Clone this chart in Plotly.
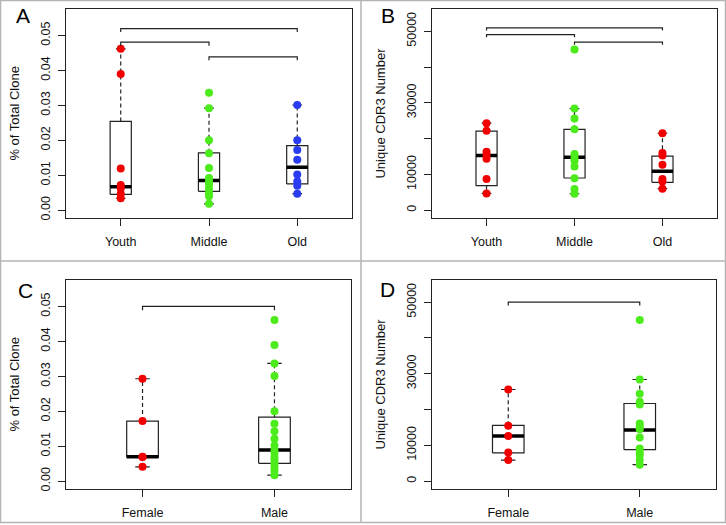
import plotly.graph_objects as go

# ---------------- data ----------------
age_groups = ["Youth", "Middle", "Old"]
sex_groups = ["Female", "Male"]

# Panel A: % of total clone by age
A_youth = [0.0462, 0.0390, 0.0119, 0.0072, 0.0063, 0.0047, 0.0034]
A_middle = [0.0336, 0.0292, 0.0200, 0.0163, 0.0121, 0.0092, 0.0084, 0.0074, 0.0063, 0.0049, 0.0040, 0.0018]
A_old = [0.0301, 0.0200, 0.0172, 0.0144, 0.0102, 0.0082, 0.0070, 0.0047]
# box stats: [whisker low, q1, median, q3, whisker high]
A_box_youth = [0.0034, 0.0045, 0.0067, 0.0254, 0.0462]
A_box_middle = [0.0018, 0.0054, 0.0085, 0.0164, 0.0292]
A_box_old = [0.0047, 0.0075, 0.0123, 0.0185, 0.0301]
A_brackets = [(1, 3, 0.0520), (1, 2, 0.0481), (2, 3, 0.0439)]

# Panel B: unique CDR3 number by age
B_youth = [24300, 22200, 16300, 15500, 14400, 8700, 4700]
B_middle = [44900, 28400, 25600, 22600, 15700, 14800, 13900, 12200, 8900, 5900, 4600]
B_old = [21500, 16000, 15300, 12700, 8700, 8000, 6000]
B_box_youth = [4700, 6860, 15300, 22100, 24300]
B_box_middle = [4600, 9000, 14800, 22600, 28400]
B_box_old = [6000, 7800, 10850, 15100, 21500]
B_brackets = [(1, 3, 50930), (1, 2, 49070), (2, 3, 46940)]

# Panel C: % of total clone by sex
C_female = [0.0293, 0.0172, 0.0070, 0.0069, 0.0041]
C_male = [0.0461, 0.0390, 0.0337, 0.0301, 0.0200, 0.0164, 0.0143, 0.0121, 0.0102,
          0.0089, 0.0082, 0.0070, 0.0061, 0.0049, 0.0040, 0.0029, 0.0017]
C_box_female = [0.0041, 0.0068, 0.0070, 0.0172, 0.0293]
C_box_male = [0.0017, 0.0051, 0.0089, 0.0183, 0.0337]
C_brackets = [(1, 2, 0.0500)]

# Panel D: unique CDR3 number by sex
D_female = [25600, 15500, 12600, 8000, 5900]
D_male = [45000, 28400, 24400, 22200, 21400, 16100, 15400, 14500, 12200, 9100, 8000, 7300, 5900, 4600]
D_box_female = [5900, 7900, 12600, 15600, 25600]
D_box_male = [4600, 8800, 14300, 21700, 28400]
D_brackets = [(1, 2, 50000)]

pct_ticks = [0.0, 0.01, 0.02, 0.03, 0.04, 0.05]
pct_ticktext = ["0.00", "0.01", "0.02", "0.03", "0.04", "0.05"]
num_ticks = [0, 10000, 20000, 30000, 40000, 50000]
num_ticktext = ["0", "10000", "", "30000", "", "50000"]

RED = "#F20000"
GREEN = "#4CEB1C"
BLUE = "#2A3CF2"
FRAME = "#222222"
FONT = "Liberation Sans, Arial, sans-serif"

fig = go.Figure()

BOX_HW = 0.12
STAPLE_HW = 0.055


def add_box(axn, pos, stats, points, color):
    xa = "x" if axn == 1 else f"x{axn}"
    ya = "y" if axn == 1 else f"y{axn}"
    wlo, q1, med, q3, whi = stats
    # whiskers (dashed)
    fig.add_trace(go.Scatter(x=[pos, pos, None, pos, pos], y=[q3, whi, None, q1, wlo],
                             mode="lines", line=dict(color=FRAME, width=1.2, dash="4px,3px"),
                             xaxis=xa, yaxis=ya, showlegend=False, hoverinfo="skip"))
    # staples
    fig.add_trace(go.Scatter(x=[pos - STAPLE_HW, pos + STAPLE_HW, None, pos - STAPLE_HW, pos + STAPLE_HW],
                             y=[whi, whi, None, wlo, wlo],
                             mode="lines", line=dict(color=FRAME, width=1.2),
                             xaxis=xa, yaxis=ya, showlegend=False, hoverinfo="skip"))
    # box
    fig.add_trace(go.Scatter(x=[pos - BOX_HW, pos + BOX_HW, pos + BOX_HW, pos - BOX_HW, pos - BOX_HW],
                             y=[q1, q1, q3, q3, q1],
                             mode="lines", line=dict(color=FRAME, width=1.2),
                             xaxis=xa, yaxis=ya, showlegend=False, hoverinfo="skip"))
    # median
    fig.add_trace(go.Scatter(x=[pos - BOX_HW, pos + BOX_HW], y=[med, med],
                             mode="lines", line=dict(color="#000000", width=3.5),
                             xaxis=xa, yaxis=ya, showlegend=False, hoverinfo="skip"))
    # points
    fig.add_trace(go.Scatter(x=[pos] * len(points), y=points, mode="markers",
                             marker=dict(color=color, size=8, line=dict(width=0)),
                             xaxis=xa, yaxis=ya, showlegend=False))


def add_brackets(axn, brackets, drop):
    xa = "x" if axn == 1 else f"x{axn}"
    ya = "y" if axn == 1 else f"y{axn}"
    xs, ys = [], []
    for a, b, h in brackets:
        xs += [a, a, b, b, None]
        ys += [h - drop, h, h, h - drop, None]
    fig.add_trace(go.Scatter(x=xs, y=ys, mode="lines", line=dict(color=FRAME, width=1.2),
                             xaxis=xa, yaxis=ya, showlegend=False, hoverinfo="skip"))


add_box(1, 1, A_box_youth, A_youth, RED)
add_box(1, 2, A_box_middle, A_middle, GREEN)
add_box(1, 3, A_box_old, A_old, BLUE)
add_brackets(1, A_brackets, 0.001)

add_box(2, 1, B_box_youth, B_youth, RED)
add_box(2, 2, B_box_middle, B_middle, GREEN)
add_box(2, 3, B_box_old, B_old, RED)
add_brackets(2, B_brackets, 750)

add_box(3, 1, C_box_female, C_female, RED)
add_box(3, 2, C_box_male, C_male, GREEN)
add_brackets(3, C_brackets, 0.0011)

add_box(4, 1, D_box_female, D_female, RED)
add_box(4, 2, D_box_male, D_male, GREEN)
add_brackets(4, D_brackets, 900)

W, H = 726, 525


def xd(l, r):
    return [l / W, r / W]


def yd(t, b):
    return [1 - b / H, 1 - t / H]


axis_common = dict(showline=True, mirror=True, linecolor=FRAME, linewidth=1.2,
                   ticks="outside", ticklen=7, tickcolor=FRAME, tickwidth=1,
                   showgrid=False, zeroline=False,
                   tickfont=dict(family=FONT, size=12.5, color="#111111"))

layout = dict(
    width=W, height=H, margin=dict(l=0, r=0, t=0, b=0),
    paper_bgcolor="white", plot_bgcolor="white",
    font=dict(family=FONT, size=12, color="#111111"),
)

panels = {
    1: dict(x=xd(66, 352), y=yd(9, 219), cats=age_groups, xr=[0.38, 3.62],
            yr=[-0.0023, 0.0576], tv=pct_ticks, tt=pct_ticktext),
    2: dict(x=xd(432, 717), y=yd(9, 219), cats=age_groups, xr=[0.38, 3.62],
            yr=[-2226, 56215], tv=num_ticks, tt=num_ticktext),
    3: dict(x=xd(66, 351), y=yd(281, 491), cats=sex_groups, xr=[0.42, 2.58],
            yr=[-0.0023, 0.0576], tv=pct_ticks, tt=pct_ticktext),
    4: dict(x=xd(432, 716), y=yd(281, 491), cats=sex_groups, xr=[0.42, 2.58],
            yr=[-2226, 56215], tv=num_ticks, tt=num_ticktext),
}

for n, p in panels.items():
    sfx = "" if n == 1 else str(n)
    layout["xaxis" + sfx] = dict(axis_common, domain=p["x"], range=p["xr"],
                                 anchor="y" + sfx, tickvals=list(range(1, len(p["cats"]) + 1)),
                                 ticktext=p["cats"], ticklabelstandoff=5)
    layout["yaxis" + sfx] = dict(axis_common, domain=p["y"], range=p["yr"],
                                 anchor="x" + sfx, tickvals=p["tv"], ticktext=p["tt"],
                                 tickangle=-90, ticklabelstandoff=3)

fig.update_layout(**layout)

# axis titles and panel letters
titles = [
    ("% of Total Clone", 15, 114),
    ("Unique CDR3 Number", 381, 114),
    ("% of Total Clone", 15, 386),
    ("Unique CDR3 Number", 381, 386),
]
for text, px, py in titles:
    fig.add_annotation(text=text, x=px / W, y=1 - py / H, xref="paper", yref="paper",
                       textangle=-90, showarrow=False, font=dict(family=FONT, size=13, color="#111111"),
                       xanchor="center", yanchor="middle")

letters = [("A", 23, 16), ("B", 388, 16), ("C", 25, 292), ("D", 388, 291)]
for text, px, py in letters:
    fig.add_annotation(text=text, x=px / W, y=1 - py / H, xref="paper", yref="paper",
                       showarrow=False, font=dict(family=FONT, size=21, color="#000000"),
                       xanchor="center", yanchor="middle")

# panel borders
BORDER = "#B4B4B4"
fig.add_shape(type="rect", xref="paper", yref="paper", x0=0.5 / W, x1=1 - 0.5 / W,
              y0=0.5 / H, y1=1 - 0.5 / H, line=dict(color=BORDER, width=1.5))
fig.add_shape(type="line", xref="paper", yref="paper", x0=361 / W, x1=361 / W, y0=0, y1=1,
              line=dict(color=BORDER, width=1.5))
fig.add_shape(type="line", xref="paper", yref="paper", x0=0, x1=1, y0=1 - 262 / H, y1=1 - 262 / H,
              line=dict(color=BORDER, width=1.5))

fig.write_html("out.html", config={"displayModeBar": False},
               post_script="document.body.style.margin='0';document.body.style.padding='0';"
                           "document.documentElement.style.overflow='hidden';")
